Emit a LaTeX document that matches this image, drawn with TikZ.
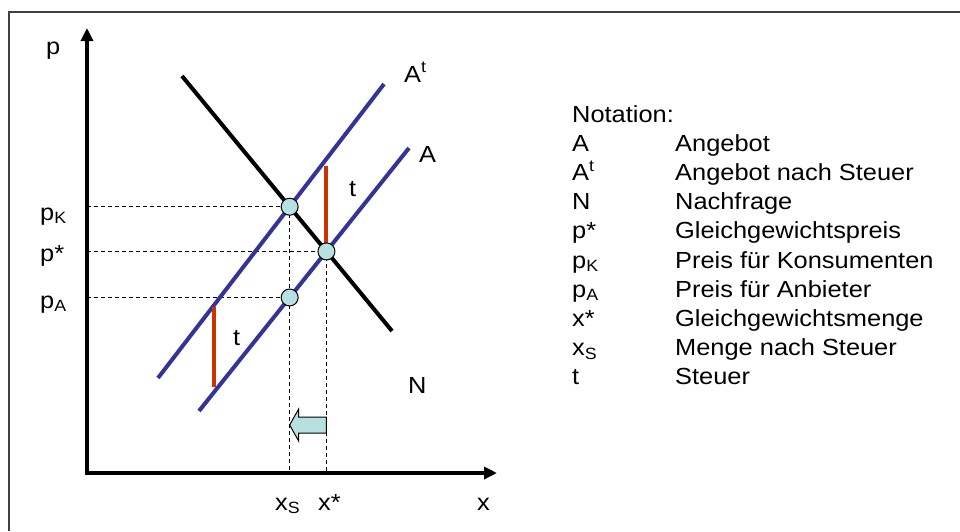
\documentclass[tikz,border=0pt]{standalone}
\usepackage{fontspec}
\setmainfont[FakeStretch=1.09]{Liberation Sans}
\usetikzlibrary{arrows.meta,calc}
\definecolor{supplyblue}{RGB}{51,51,153}
\definecolor{taxred}{RGB}{204,51,0}
\definecolor{dotfill}{RGB}{183,224,224}

\begin{document}
\begin{tikzpicture}[x=1pt, y=-1pt, >={Triangle[length=13pt,width=12pt]},
	font=\fontsize{23.3}{29.2}\selectfont,
	axis/.style={line width=4pt},
	supply/.style={line width=4pt, supplyblue},
	demand/.style={line width=4pt, black},
	tax/.style={line width=4pt, taxred},
	guide/.style={line width=1pt, dash pattern=on 4pt off 3pt},
	dot/.style={circle, draw, line width=1pt, fill=dotfill, minimum size=17pt, inner sep=0pt},
	lbl/.style={anchor=base west, inner sep=0pt}]
	\useasboundingbox (0,0) rectangle (960,531);
	\draw[line width=2pt, black!75] (9,531) -- (9,12) -- (960,12);
	
	% axes
	\coordinate (O) at (87,473);
	\draw[axis, <->] (87,28) -- (O) -- (497,473);
	
	% curves and intersections
	\coordinate (n1) at (182,76);
	\coordinate (n2) at (392,331);
	\coordinate (at1) at (158,378);
	\coordinate (at2) at (384,84);
	\coordinate (a1) at (199,411);
	\coordinate (a2) at (409,148);
	\coordinate (kons) at (intersection of n1--n2 and at1--at2);
	\coordinate (eq) at (intersection of n1--n2 and a1--a2);
	\coordinate (kx) at (kons |- O);
	\coordinate (anb) at (intersection of a1--a2 and kons--kx);
	
	\draw[guide] (O |- kons) -- (kons) -- (kx);
	\draw[guide] (O |- anb) -- (anb);
	\draw[guide] (O |- eq) -- (eq) -- (eq |- O);
	
	\draw[demand] (n1) -- (n2);
	\draw[supply] (at1) -- (at2);
	\draw[supply] (a1) -- (a2);
	\draw[tax] (eq) -- ++(0,-85);
	\draw[tax] (214,307) -- (214,387);
	
	\node[dot] (pK) at (kons) {};
	\node[dot] (pstar) at (eq) {};
	\node[dot] (pA) at (anb) {};
	
	% shift of the quantity
	\coordinate (tail) at (eq |- 0,425);
	\coordinate (tip) at (kons |- 0,425);
	\draw[line width=1pt, fill=dotfill] ($(tail)+(0,-8)$) -- ($(tip)+(9,-8)$) -- ($(tip)+(9,-16)$)
		-- (tip) -- ($(tip)+(9,16)$) -- ($(tip)+(9,8)$) -- ($(tail)+(0,8)$) -- cycle;
	
	% labels
	\node[lbl] (plab) at (46,54) {p};
	\node[lbl] (pKlab) at (40,220) {p\textsubscript{K}};
	\node[lbl] (pstarlab) at (40,261) {p*};
	\node[lbl] (pAlab) at (40,308) {p\textsubscript{A}};
	\node[lbl] (Atlab) at (404,82) {A\textsuperscript{t}};
	\node[lbl] (Alab) at (419,162) {A};
	\node[lbl] (tup) at (349,196) {t};
	\node[lbl] (tlow) at (233,345) {t};
	\node[lbl] (Nlab) at (408,393) {N};
	\node[lbl] (xSlab) at (275,510) {x\textsubscript{S}};
	\node[lbl] (xstarlab) at (318,510) {x*};
	\node[lbl] (xlab) at (477,510) {x};
	
	\node[lbl] (notation) at (572,122) {\begin{tabular}[t]{@{}p{103pt}@{}l@{}}
		Notation: & \\
		A & Angebot \\
		A\textsuperscript{t} & Angebot nach Steuer \\
		N & Nachfrage \\
		p* & Gleichgewichtspreis \\
		p\textsubscript{K} & Preis für Konsumenten \\
		p\textsubscript{A} & Preis für Anbieter \\
		x* & Gleichgewichtsmenge \\
		x\textsubscript{S} & Menge nach Steuer \\
		t & Steuer
	\end{tabular}};
\end{tikzpicture}
\end{document}
